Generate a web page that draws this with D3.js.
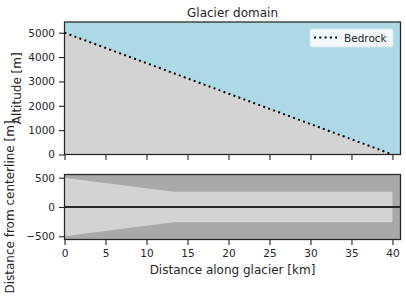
<!DOCTYPE html>
<html>
<head>
<meta charset="utf-8">
<script src="https://cdn.jsdelivr.net/npm/d3@7"></script>
<style>
  body { margin: 0; background: #fff; }
  text { font-family: "DejaVu Sans", sans-serif; fill: #262626; }
</style>
</head>
<body>
<div id="chart"></div>
<script>
// Bedrock profile along the flowline
var bedDist = [0, 40];
var bedAlt = [5000, 0];

// Glacier outline (half width either side of centerline)
var widthDist = [0, 13.3, 40];
var halfWidth = [500, 260, 260];

var xTicks = [0, 5, 10, 15, 20, 25, 30, 35, 40];
var altTicks = [0, 1000, 2000, 3000, 4000, 5000];
var widthTicks = [-500, 0, 500];

var W = 406, H = 301;
var left = 64.5, right = 400.5;
var tickLen = 5.5;

var svg = d3.select("#chart").append("svg")
    .attr("width", W)
    .attr("height", H);

var x = d3.scaleLinear().domain([0, 40.98]).range([left, right]);

// ---- top panel: altitude ----
var top1 = 22, bot1 = 154.5;
var y1 = d3.scaleLinear().domain([0, 5440]).range([bot1, top1]);

svg.append("rect")
    .attr("x", left).attr("y", top1)
    .attr("width", right - left).attr("height", bot1 - top1)
    .style("fill", "#add8e6");

var bedPts = bedDist.map(function(d, i) { return [d, bedAlt[i]]; });

svg.append("path")
    .datum(bedPts)
    .attr("d", d3.area()
        .x(function(d) { return x(d[0]); })
        .y0(y1(0))
        .y1(function(d) { return y1(d[1]); }))
    .style("fill", "#d3d3d3");

svg.append("path")
    .datum(bedPts)
    .attr("d", d3.line()
        .x(function(d) { return x(d[0]); })
        .y(function(d) { return y1(d[1]); }))
    .style("fill", "none")
    .style("stroke", "#000")
    .style("stroke-width", 2)
    .style("stroke-dasharray", "2,3.3");

svg.append("g")
    .attr("transform", "translate(" + left + ",0)")
    .call(d3.axisLeft(y1).tickValues(altTicks).tickSize(tickLen).tickPadding(4)
        .tickFormat(d3.format("d")));

svg.append("g")
    .attr("transform", "translate(0," + bot1 + ")")
    .call(d3.axisBottom(x).tickValues(xTicks).tickSize(tickLen).tickFormat(""));

svg.append("rect")
    .attr("x", left).attr("y", top1)
    .attr("width", right - left).attr("height", bot1 - top1)
    .style("fill", "none").style("stroke", "#262626").style("stroke-width", 1.25);

svg.append("text")
    .attr("x", (left + right) / 2).attr("y", 17)
    .attr("text-anchor", "middle")
    .style("font-size", "12px")
    .text("Glacier domain");

svg.append("text")
    .attr("transform", "translate(21," + ((top1 + bot1) / 2) + ") rotate(-90)")
    .attr("text-anchor", "middle")
    .style("font-size", "12px")
    .text("Altitude [m]");

// legend
var lg = svg.append("g").attr("transform", "translate(310,29)");
lg.append("rect")
    .attr("width", 83).attr("height", 18).attr("rx", 2)
    .style("fill", "#f0f8fb").style("stroke", "#d8e8ee").style("stroke-width", 0.8);
lg.append("line")
    .attr("x1", 4).attr("x2", 27).attr("y1", 8.5).attr("y2", 8.5)
    .style("stroke", "#000").style("stroke-width", 2)
    .style("stroke-dasharray", "2,3.3");
lg.append("text")
    .attr("x", 34).attr("y", 12.8)
    .style("font-size", "10.5px")
    .text("Bedrock");

// ---- bottom panel: plan view ----
var top2 = 174.5, bot2 = 239.5;
var y2 = d3.scaleLinear().domain([-555, 555]).range([bot2, top2]);

svg.append("rect")
    .attr("x", left).attr("y", top2)
    .attr("width", right - left).attr("height", bot2 - top2)
    .style("fill", "#a9a9a9");

var widthPts = widthDist.map(function(d, i) { return [d, halfWidth[i]]; });

svg.append("path")
    .datum(widthPts)
    .attr("d", d3.area()
        .x(function(d) { return x(d[0]); })
        .y0(function(d) { return y2(-d[1]); })
        .y1(function(d) { return y2(d[1]); }))
    .style("fill", "#d3d3d3");

svg.append("line")
    .attr("x1", x(0)).attr("x2", right)
    .attr("y1", y2(0)).attr("y2", y2(0))
    .style("stroke", "#262626").style("stroke-width", 2);

svg.append("g")
    .attr("transform", "translate(" + left + ",0)")
    .call(d3.axisLeft(y2).tickValues(widthTicks).tickSize(tickLen).tickPadding(4)
        .tickFormat(function(d) { return d < 0 ? "\u2212" + Math.abs(d) : d; }));

svg.append("g")
    .attr("transform", "translate(0," + bot2 + ")")
    .call(d3.axisBottom(x).tickValues(xTicks).tickSize(tickLen).tickPadding(5));

svg.append("rect")
    .attr("x", left).attr("y", top2)
    .attr("width", right - left).attr("height", bot2 - top2)
    .style("fill", "none").style("stroke", "#262626").style("stroke-width", 1.25);

svg.append("text")
    .attr("x", (left + right) / 2).attr("y", 274)
    .attr("text-anchor", "middle")
    .style("font-size", "12px")
    .text("Distance along glacier [km]");

svg.append("text")
    .attr("transform", "translate(14," + ((top2 + bot2) / 2) + ") rotate(-90)")
    .attr("text-anchor", "middle")
    .style("font-size", "12px")
    .text("Distance from centerline [m]");

svg.selectAll(".domain").remove();
svg.selectAll(".tick line").style("stroke", "#262626").style("stroke-width", 1.1);
svg.selectAll(".tick text").style("font-size", "10.5px").style("fill", "#262626");
</script>
</body>
</html>
